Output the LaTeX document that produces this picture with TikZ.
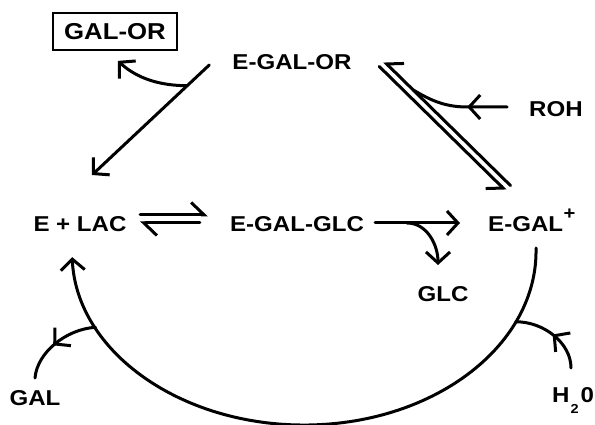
\documentclass[tikz,border=0pt]{standalone}
\usepackage{fontspec}
\setmainfont{Liberation Sans}[FakeStretch=1.12]
\usetikzlibrary{arrows.meta,calc,decorations.markings}
\begin{document}
\begin{tikzpicture}[x=1pt,y=-1pt,
  lbl/.style={font=\fontsize{21.5}{21.5}\selectfont\bfseries, inner sep=0pt, anchor=base},
  conn/.style={line width=3pt, line cap=round},
  vtip/.style={-{Straight Barb[length=11pt,width=24pt]}},
  harpL/.style={-{Straight Barb[left,length=13pt,width=25pt]}},
  harpR/.style={-{Straight Barb[right,length=12pt,width=25pt]}},
  midarr/.style={postaction={decorate}, decoration={markings,
     mark=at position #1 with {\arrow{Straight Barb[length=11pt,width=24pt]}}}}
]
\useasboundingbox (0,0) rectangle (595,425);

% nodes
\node[lbl, draw, line width=1.8pt, font=\fontsize{23}{23}\selectfont\bfseries,
      minimum width=124pt, minimum height=37pt, anchor=center] (galor) at (115,31.5) {GAL-OR};
\node[lbl] (egalor) at (292,70) {E-GAL-OR};
\node[lbl] (roh) at (556,117) {ROH};
\node[lbl] (elac) at (80,232) {E + LAC};
\node[lbl] (egalglc) at (297,232) {E-GAL-GLC};
\node[lbl, anchor=base west] (egal) at (488,232) {E-GAL\kern0.5pt\raisebox{13pt}{\fontsize{18}{18}\selectfont +}};
\node[lbl] (glc) at (443,301) {GLC};
\node[lbl] (gal) at (35,405) {GAL};
\node[lbl, anchor=base west] (h2o) at (552,402) {H\kern1pt\raisebox{-11pt}{\fontsize{13}{13}\selectfont 2}\kern2pt 0};

% E-GAL-OR -> E + LAC, with branch to GAL-OR
\draw[conn, vtip] ($(egalor.base west)+(-23,-5)$) -- coordinate[pos=0.188] (orb) ($(elac.base)+(12,-57)$);
\draw[conn, vtip] (orb) .. controls +(-35,0) and +(14,13) .. ($(galor.south)+(3,10)$);

% double equilibrium E-GAL-OR <=> E-GAL+
\coordinate (T) at ($(egalor.base east)+(30,-6)$);
\coordinate (Bc) at ($(egal.base west)+(20,-44)$);
\coordinate (B1) at ($(T)!3.5pt!90:(Bc)$);
\coordinate (B2) at ($(Bc)!3.5pt!-90:(T)$);
\coordinate (A1) at ($(T)!3.5pt!-90:(Bc)$);
\coordinate (A2) at ($(Bc)!3.5pt!90:(T)$);
\draw[conn, harpR] (B2) -- coordinate[pos=0.77] (robj) (B1);
\draw[conn, harpR] (A1) -- (A2);

% ROH in
\draw[conn, midarr=0.41] ($(roh.base west)+(-22,-10)$) -- ++(-40,0)
   .. controls +(-25,0) and +(14,8) .. (robj);

% E + LAC <=> E-GAL-GLC
\draw[conn, harpL] ($(elac.base east)+(13.5,-17)$) -- ($(egalglc.base west)+(-22,-17)$);
\draw[conn, harpL] ($(egalglc.base west)+(-30,-9)$) -- ($(elac.base east)+(13.5,-9)$);

% E-GAL-GLC -> E-GAL+, GLC out
\draw[conn, vtip] ($(egalglc.base east)+(11,-9)$) -- coordinate[pos=0.376] (glcb) ($(egal.base west)+(-28,-9)$);
\draw[conn, vtip] (glcb) .. controls +(20,0) and +(0,-20) .. ($(glc.base)+(-5,-36)$);

% big arc E-GAL+ -> E + LAC
\coordinate (arcS) at ($(egal.base west)+(48,16)$);
\coordinate (ac) at ($(arcS)+(-232,3)$);
\draw[conn, vtip] (arcS) arc[start angle=1, end angle=-178, x radius=232pt, y radius=174pt];
\coordinate (galj) at ($(ac)+(-154:232pt and 174pt)$);
\coordinate (h2oj) at ($(ac)+(-24:232pt and 174pt)$);

% GAL out
\draw[conn, midarr=0.55] (galj) .. controls +(-30,2) and +(2,-25) .. ($(gal.base)+(0,-27)$);
% H2O in
\draw[conn, midarr=0.5] ($(h2o.base west)+(19,-34)$) .. controls +(0,-25) and +(28,0) .. (h2oj);
\end{tikzpicture}
\end{document}
